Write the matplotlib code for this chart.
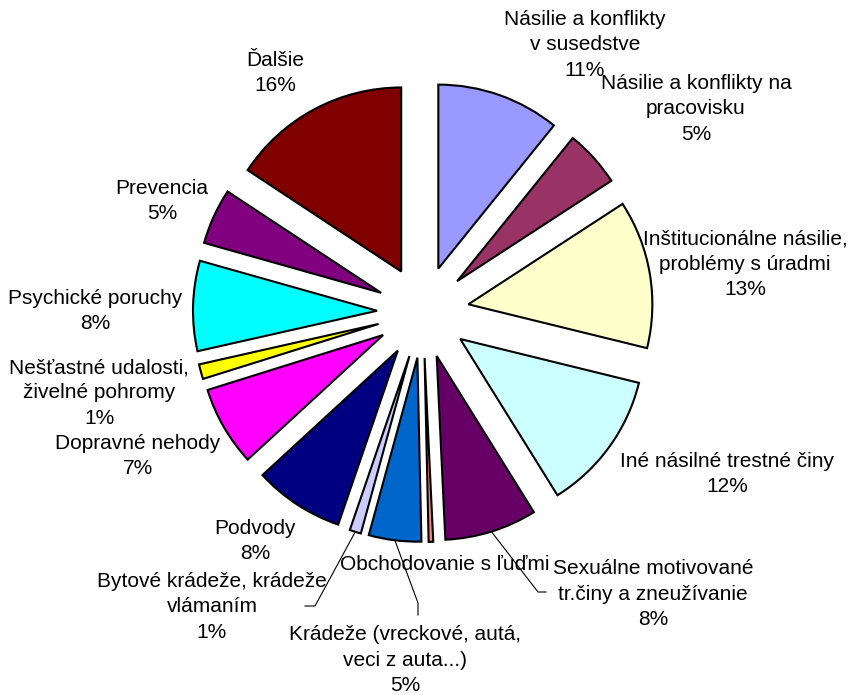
import matplotlib
matplotlib.use("Agg")
import matplotlib.pyplot as plt
import numpy as np

plt.rcParams["font.family"] = ["Liberation Sans", "DejaVu Sans"]

# ── data (percent share, clockwise from 12 o'clock) ──
categories = [
    "Násilie a konflikty\nv susedstve",
    "Násilie a konflikty na\npracovisku",
    "Inštitucionálne násilie,\nproblémy s úradmi",
    "Iné násilné trestné činy",
    "Sexuálne motivované\ntr.činy a zneužívanie",
    "Obchodovanie s ľuďmi",
    "Krádeže (vreckové, autá,\nveci z auta...)",
    "Bytové krádeže, krádeže\nvlámaním",
    "Podvody",
    "Dopravné nehody",
    "Nešťastné udalosti,\nživelné pohromy",
    "Psychické poruchy",
    "Prevencia",
    "Ďalšie",
]
values = [10.8, 5.0, 13.0, 12.3, 8.1, 0.4, 4.6, 1.0, 7.9, 7.0, 1.3, 7.9, 4.9, 15.7]
colors = ["#9999FF", "#993366", "#FFFFCC", "#CCFFFF", "#660066", "#FF8080",
          "#0066CC", "#CCCCFF", "#000080", "#FF00FF", "#FFFF00", "#00FFFF",
          "#800080", "#800000"]

# ── layout (pixel coords, y measured from top) ──
W, H = 868, 695
cx, cy = 423, 312
R = 184
EXPL = 46
label_pos = [(585, 45), (696, 109), (745, 264), (727, 474), (653, 594),
             (445, 565), (405, 660), (212, 607), (255, 541), (138, 456),
             (99, 393), (95, 311), (162, 201), (275, 73)]
# leader lines: elbow and end point for labels that have one
leaders = {4: [(538, 592), (546, 592)],
           6: [(418, 603), (418, 615)],
           7: [(315, 606), (305, 606)]}

fig = plt.figure(figsize=(W / 100, H / 100), dpi=100)
ax = fig.add_axes([0, 0, 1, 1])

ax.pie(values, explode=[EXPL] * len(values), radius=R, center=(cx, H - cy),
       startangle=90, counterclock=False, colors=colors,
       wedgeprops=dict(edgecolor="black", linewidth=1.5))

# labels
total = sum(values)
start = 90.0
for i, (cat, v) in enumerate(zip(categories, values)):
    ang = start - v / total * 360 / 2
    start -= v / total * 360
    pct = round(v / total * 100)
    txt = cat if pct == 0 else f"{cat}\n{pct}%"
    lx, ly = label_pos[i]
    ax.text(lx, H - ly, txt, ha="center", va="center", fontsize=15,
            linespacing=1.42, color="black")
    if i in leaders:
        u = np.array([np.cos(np.radians(ang)), np.sin(np.radians(ang))])
        p0 = np.array([cx, H - cy]) + (R + EXPL) * u
        pts = [p0] + [np.array([x, H - y]) for x, y in leaders[i]]
        ax.plot([p[0] for p in pts], [p[1] for p in pts], color="black",
                linewidth=0.8)

ax.set_xlim(0, W)
ax.set_ylim(0, H)
ax.set_aspect("equal")
ax.axis("off")

fig.savefig("out.png", dpi=100)
